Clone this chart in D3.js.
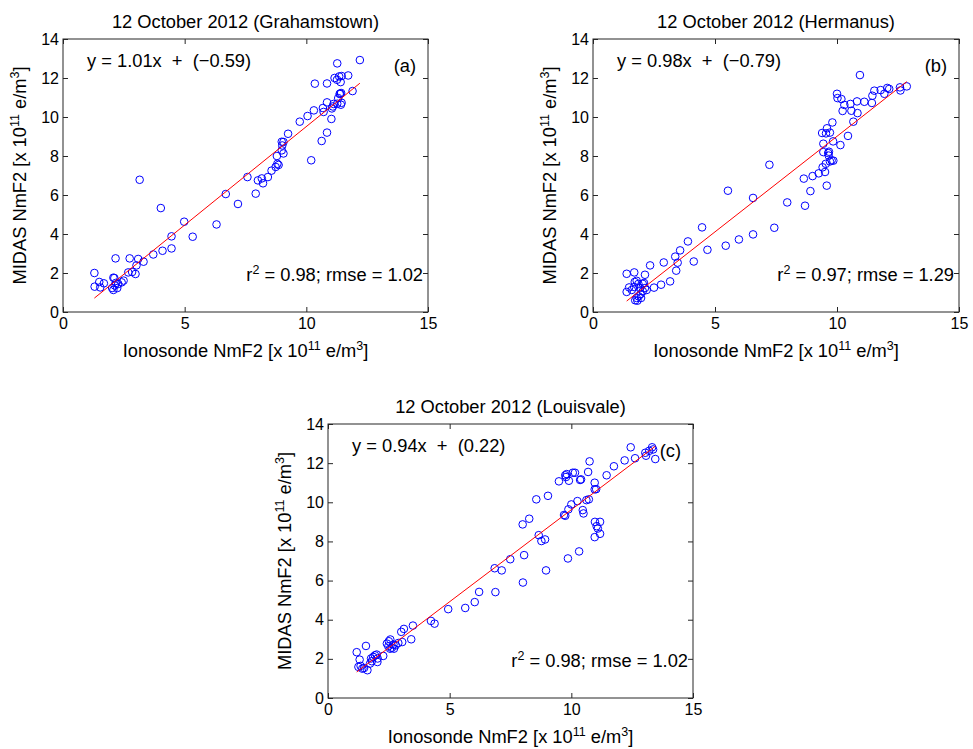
<!DOCTYPE html>
<html>
<head>
<meta charset="utf-8">
<script src="https://cdn.jsdelivr.net/npm/d3@7"></script>
<style>
  html, body { margin: 0; padding: 0; background: #fff; }
  svg { display: block; font-family: "Liberation Sans", Arial, Helvetica, sans-serif; }
</style>
</head>
<body>
<svg id="chart" width="973" height="749"></svg>
<script>
// Ionosonde vs MIDAS NmF2 (x 10^11 e/m^3), 12 October 2012

const stations = ["Grahamstown", "Hermanus", "Louisvale"];
const panelTags = ["(a)", "(b)", "(c)"];
const slopes = [1.01, 0.98, 0.94];
const intercepts = [-0.59, -0.79, 0.22];
const r2Values = [0.98, 0.97, 0.98];
const rmseValues = [1.02, 1.29, 1.02];
const xTicks = [0, 5, 10, 15];
const yTicks = [0, 2, 4, 6, 8, 10, 12, 14];

// Grahamstown: ionosonde NmF2
const ionoA = [1.29,1.30,1.49,1.53,1.68,2.16,2.07,2.11,2.02,2.07,2.13,2.23,2.17,2.27,2.41,2.49,2.74,2.68,2.84,2.98,
  3.09,3.02,3.31,3.15,3.71,4.09,4.46,4.46,4.02,4.98,5.33,6.31,6.69,7.19,7.58,7.92,8.01,8.17,8.22,8.42,
  8.57,8.74,8.81,8.86,8.79,9.06,8.99,9.01,9.06,8.99,9.25,9.73,10.05,10.2,10.31,10.35,10.63,10.68,10.71,10.85,
  10.85,10.85,11.03,11.05,11.12,11.16,11.27,11.26,11.35,11.41,11.45,11.27,11.31,11.37,11.43,11.42,11.45,11.72,11.9,12.2,
  11.39,11.09];
// Grahamstown: MIDAS NmF2
const midasA = [2.0,1.30,1.54,1.26,1.47,2.75,1.76,1.74,1.23,1.13,1.36,1.23,1.49,1.44,1.52,1.61,2.75,2.03,2.05,1.95,
  2.72,2.39,2.58,6.78,2.95,3.14,3.26,3.88,5.33,4.63,3.86,4.49,6.05,5.54,6.92,6.07,6.75,6.85,6.6,6.92,
  7.25,7.44,7.6,7.54,8.0,8.13,8.29,8.54,8.72,8.73,9.14,9.76,10.05,7.78,10.34,11.71,8.77,10.46,10.26,10.75,
  9.2,11.72,9.9,10.44,10.67,12.0,12.75,11.91,12.08,11.79,12.1,10.68,10.97,11.18,11.23,10.63,10.73,12.13,11.33,12.92,
  11.2,10.54];

// Hermanus: ionosonde NmF2
const ionoB = [1.38,1.69,2.13,2.34,2.9,3.37,3.47,3.41,3.57,3.89,4.13,4.47,4.69,5.44,5.53,5.98,6.56,6.56,7.23,7.43,
  7.96,3.16,2.79,2.5,1.38,1.48,1.59,1.71,1.79,1.69,1.86,1.93,2.04,2.09,2.13,2.2,2.04,1.95,1.87,1.79,
  1.73,1.82,1.97,8.69,8.91,8.64,9.0,9.25,9.41,9.51,9.58,9.54,9.71,9.78,9.85,9.66,9.67,9.64,9.44,9.44,
  9.55,9.39,9.59,9.71,9.81,9.84,10.14,10.45,10.67,10.0,10.02,10.18,10.3,10.23,10.55,10.59,10.84,10.82,10.94,11.12,
  11.43,11.45,11.53,11.79,11.94,12.06,12.14,12.58,12.6,12.86];
// Hermanus: MIDAS NmF2
const midasB = [1.96,2.03,1.91,2.39,2.54,2.84,2.53,2.12,3.16,3.62,2.59,4.34,3.19,3.4,6.22,3.72,5.85,3.98,7.55,4.32,
  5.62,1.57,1.4,1.25,1.03,1.26,1.13,1.54,1.6,1.28,1.44,1.23,1.44,1.49,1.23,1.13,1.06,0.92,0.8,0.72,
  0.6,0.58,0.72,5.45,6.2,6.84,6.97,7.11,7.42,7.18,6.48,7.6,7.72,7.77,7.76,8.02,8.22,8.15,8.2,8.63,
  9.16,9.18,9.42,9.2,9.72,8.75,8.56,9.03,9.76,11.19,10.97,10.92,10.62,10.31,10.67,10.32,10.2,10.8,12.15,10.78,
  10.72,11.09,11.35,11.38,11.19,11.49,11.44,11.52,11.36,11.57];

// Louisvale: ionosonde NmF2
const ionoC = [1.18,1.3,1.25,1.34,1.41,1.48,1.56,1.62,1.73,1.77,1.86,1.93,2.0,2.04,2.03,1.8,2.27,2.42,2.5,2.56,
  2.48,2.55,2.62,2.71,2.69,2.78,2.89,3.01,3.12,3.05,3.42,3.49,4.23,4.38,4.94,5.64,6.03,6.21,6.88,6.85,
  7.14,7.49,8.0,8.06,8.01,8.27,8.56,9.04,8.66,8.77,8.92,8.96,9.49,9.75,9.81,9.78,9.9,10.06,10.15,10.36,
  10.4,10.69,10.75,10.96,9.7,9.75,9.88,10.0,10.25,10.47,10.5,10.62,10.72,10.96,11.02,9.86,10.32,10.96,10.97,11.04,
  11.18,11.18,11.09,11.45,11.75,12.19,12.44,12.62,13.04,13.07,13.2,13.32,13.36,13.45];
// Louisvale: MIDAS NmF2
const midasC = [2.34,1.96,1.59,1.64,1.5,1.53,2.66,1.42,1.76,2.02,2.1,2.18,2.22,2.02,1.84,1.88,2.15,2.78,2.9,2.99,
  2.64,2.52,2.56,2.52,2.73,2.69,2.81,3.38,3.53,2.86,3.0,3.7,3.94,3.8,4.54,4.6,4.9,5.42,5.41,6.63,
  6.52,7.09,8.87,7.3,5.9,9.16,10.15,10.33,8.32,8.02,8.1,6.52,11.07,11.38,11.44,11.29,11.1,11.51,11.51,11.14,
  11.17,11.55,12.09,11.0,9.35,9.31,9.64,9.89,10.06,9.6,9.43,10.11,10.15,10.66,10.67,7.13,7.49,8.22,9.0,8.78,
  9.0,8.39,8.66,11.38,11.84,12.14,12.81,12.25,12.53,12.38,12.63,12.81,12.7,12.21];

const ionoSets = [ionoA, ionoB, ionoC];
const midasSets = [midasA, midasB, midasC];

// Plot box of each panel on the page
const boxes = [
  { left: 63,  top: 39,  width: 365, height: 273 },
  { left: 593, top: 39,  width: 366, height: 273 },
  { left: 328, top: 424, width: 365, height: 274 }
];

const svg = d3.select("#chart");
const axisColor = "#262626";
const textSize = "18.3px";
const supSize = "12.5px";
const fmt = d3.format(".2f");
const signed = v => (v < 0 ? "\u2212" + fmt(-v) : fmt(v));

// Text with superscripts: parts are [string, isSuperscript]
function richText(sel, parts) {
  parts.forEach(([s, sup], k) => {
    const prevSup = k > 0 && parts[k - 1][1];
    const t = sel.append("tspan").text(s);
    if (sup) t.attr("dy", -7.5).style("font-size", supSize);
    else if (prevSup) t.attr("dy", 7.5);
  });
}

stations.forEach((station, i) => {
  const b = boxes[i];
  const g = svg.append("g").attr("transform", `translate(${b.left},${b.top})`);

  const x = d3.scaleLinear().domain([0, 15]).range([0, b.width]);
  const y = d3.scaleLinear().domain([0, 14]).range([b.height, 0]);

  // Bottom / left axes with labels, ticks pointing inward
  const styleAxis = sel => {
    sel.select(".domain").remove();
    sel.selectAll("line").attr("stroke", axisColor);
    sel.selectAll("text").attr("fill", "#000").style("font-size", "16px")
      .style("font-family", '"Liberation Sans", Arial, sans-serif');
  };
  g.append("g").attr("transform", `translate(0,${b.height})`)
    .call(d3.axisBottom(x).tickValues(xTicks).tickFormat(d3.format("d")).tickSize(-5).tickPadding(6))
    .call(styleAxis);
  g.append("g")
    .call(d3.axisLeft(y).tickValues(yTicks).tickFormat(d3.format("d")).tickSize(-5).tickPadding(4))
    .call(styleAxis);
  // Mirror ticks on top / right
  g.append("g")
    .call(d3.axisTop(x).tickValues(xTicks).tickFormat("").tickSize(-5))
    .call(styleAxis);
  g.append("g").attr("transform", `translate(${b.width},0)`)
    .call(d3.axisRight(y).tickValues(yTicks).tickFormat("").tickSize(-5))
    .call(styleAxis);

  g.append("rect")
    .attr("x", 0).attr("y", 0).attr("width", b.width).attr("height", b.height)
    .attr("fill", "none").attr("stroke", axisColor).attr("stroke-width", 1);

  // Observations
  const iono = ionoSets[i], midas = midasSets[i];
  g.append("g").selectAll("circle")
    .data(iono.map((v, k) => [v, midas[k]]))
    .join("circle")
    .attr("cx", d => x(d[0]))
    .attr("cy", d => y(d[1]))
    .attr("r", 3.8)
    .attr("fill", "none")
    .attr("stroke", "#0000ff")
    .attr("stroke-width", 1);

  // Least-squares fit line over the observed range
  const [x0, x1] = d3.extent(iono);
  const fit = v => slopes[i] * v + intercepts[i];
  g.append("line")
    .attr("x1", x(x0)).attr("y1", y(fit(x0)))
    .attr("x2", x(x1)).attr("y2", y(fit(x1)))
    .attr("stroke", "#ff0000").attr("stroke-width", 1);

  // Title
  g.append("text")
    .attr("x", b.width / 2).attr("y", -11)
    .attr("text-anchor", "middle").style("font-size", textSize)
    .text(`12 October 2012 (${station})`);

  // Regression equation
  g.append("text")
    .attr("x", 24).attr("y", 28)
    .style("font-size", textSize)
    .attr("xml:space", "preserve")
    .text(`y = ${fmt(slopes[i])}x  +  (${signed(intercepts[i])})`);

  // Panel tag
  g.append("text")
    .attr("x", b.width - 12).attr("y", 33)
    .attr("text-anchor", "end").style("font-size", textSize)
    .text(panelTags[i]);

  // Goodness of fit
  const stat = g.append("text")
    .attr("x", b.width - 5).attr("y", b.height - 31)
    .attr("text-anchor", "end").style("font-size", textSize);
  richText(stat, [["r", false], ["2", true], [` = ${fmt(r2Values[i])}; rmse = ${fmt(rmseValues[i])}`, false]]);

  // Axis titles
  const unitParts = [["[x 10", false], ["11", true], [" e/m", false], ["3", true], ["]", false]];
  const xl = g.append("text")
    .attr("x", b.width / 2).attr("y", b.height + 45)
    .attr("text-anchor", "middle").style("font-size", textSize);
  richText(xl, [["Ionosonde NmF2 ", false], ...unitParts]);

  const yl = g.append("text")
    .attr("transform", `translate(${-37},${b.height / 2}) rotate(-90)`)
    .attr("text-anchor", "middle").style("font-size", textSize);
  richText(yl, [["MIDAS NmF2 ", false], ...unitParts]);
});
</script>
</body>
</html>
